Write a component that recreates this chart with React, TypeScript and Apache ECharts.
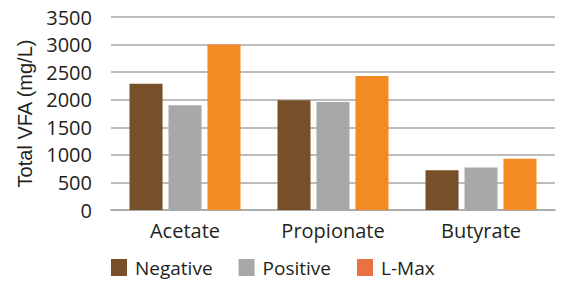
import React, { useEffect, useRef } from "react";
import * as echarts from "echarts";

const categories = ["Acetate", "Propionate", "Butyrate"];
const negative = [2290, 1990, 720];
const positive = [1900, 1960, 770];
const lmax = [3000, 2430, 930];
const seriesNames = ["Negative", "Positive", "L-Max"];
const seriesColors = ["#774F28", "#A7A8AA", "#F38A23"];
const legendColors = ["#774F28", "#A7A8AA", "#EB7144"];

export default function App() {
  const ref = useRef<HTMLDivElement>(null);
  useEffect(() => {
    if (!ref.current) return;
    const chart = echarts.init(ref.current, undefined, { renderer: "svg" });
    const font = "'Open Sans', sans-serif";
    const data = [negative, positive, lmax];
    chart.setOption({
      animation: false,
      grid: { left: 111, right: 9, top: 17, bottom: 72 },
      legend: {
        left: 111,
        top: 258,
        padding: 0,
        itemWidth: 16,
        itemHeight: 17,
        itemGap: 26,
        icon: "rect",
        textStyle: { fontSize: 19, lineHeight: 19, fontFamily: font, color: "#231F20", padding: [0, 0, 0, 3] },
        data: seriesNames.map((n, i) => ({ name: n, itemStyle: { color: legendColors[i] } })),
      },
      xAxis: {
        type: "category",
        data: categories,
        axisLine: { show: true, lineStyle: { color: "#A6A6A6", width: 1.5 } },
        axisTick: { show: false },
        axisLabel: { fontSize: 20, fontFamily: font, color: "#231F20", margin: 10 },
      },
      yAxis: {
        type: "value",
        min: 0,
        max: 3500,
        interval: 500,
        name: "Total VFA (mg/L)",
        nameLocation: "middle",
        nameGap: 76,
        nameTextStyle: { fontSize: 20, fontFamily: "'Liberation Sans', Arial, sans-serif", color: "#231F20" },
        axisLine: { show: false },
        axisTick: { show: false },
        axisLabel: {
          fontSize: 20,
          fontFamily: font,
          color: "#231F20",
          margin: 19,
          formatter: (v: number) => String(v),
        },
        splitLine: { lineStyle: { color: "#A6A6A6", width: 1.5 } },
      },
      series: data.map((d, i) => ({
        type: "bar",
        name: seriesNames[i],
        data: d,
        itemStyle: { color: seriesColors[i] },
        barGap: "18%",
        barCategoryGap: "25%",
      })),
    });
    return () => chart.dispose();
  }, []);
  return <div ref={ref} style={{ width: 564, height: 282, position: "absolute", left: 0, top: 0 }} />;
}
